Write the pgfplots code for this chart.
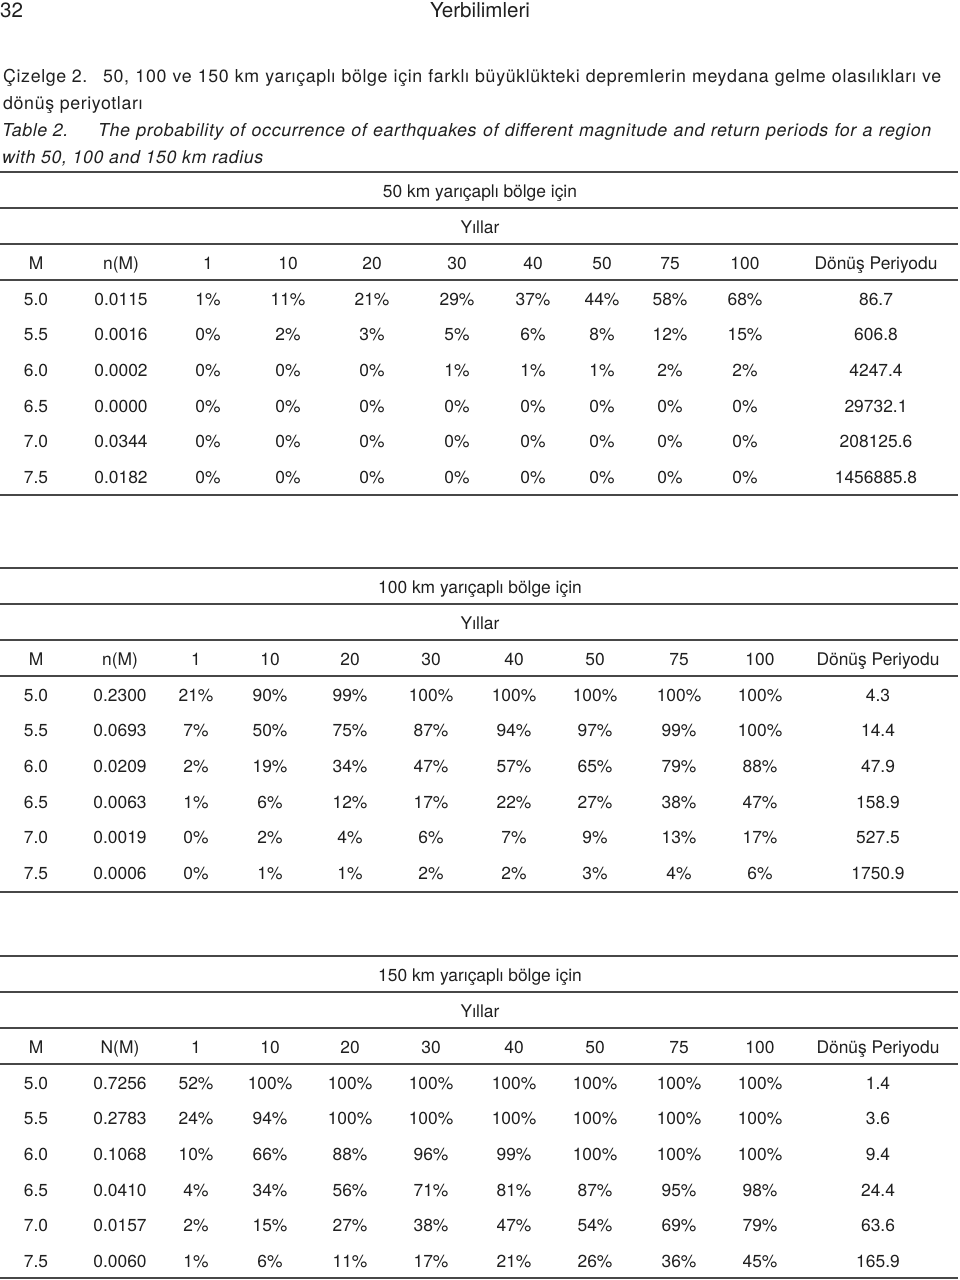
\documentclass[border=0pt]{standalone}
\usepackage{fontspec}
\setmainfont{TeX Gyre Heros}
\newfontfamily\capfam[LetterSpace=3.5]{TeX Gyre Heros}
\usepackage{pgfplots}
\usepackage{pgfplotstable}
\pgfplotsset{compat=1.18}

\newcommand\tabfont{\fontsize{17.4}{20}\selectfont}
\newcommand\capfont{\capfam\fontsize{17.8}{22}\selectfont}
\newcommand\headfont{\fontsize{20.6}{24}\selectfont}
\tikzset{txt/.style={inner sep=0pt, text=black!88}}

% 50 km
\pgfplotstableread{
M   nM     p1 p10 p20 p30 p40 p50 p75 p100 DP
5.0 0.0115 1  11  21  29  37  44  58  68   86.7
5.5 0.0016 0  2   3   5   6   8   12  15   606.8
6.0 0.0002 0  0   0   1   1   1   2   2    4247.4
6.5 0.0000 0  0   0   0   0   0   0   0    29732.1
7.0 0.0344 0  0   0   0   0   0   0   0    208125.6
7.5 0.0182 0  0   0   0   0   0   0   0    1456885.8
}\tabA
% 100 km
\pgfplotstableread{
M   nM     p1 p10 p20 p30 p40 p50 p75 p100 DP
5.0 0.2300 21 90  99  100 100 100 100 100  4.3
5.5 0.0693 7  50  75  87  94  97  99  100  14.4
6.0 0.0209 2  19  34  47  57  65  79  88   47.9
6.5 0.0063 1  6   12  17  22  27  38  47   158.9
7.0 0.0019 0  2   4   6   7   9   13  17   527.5
7.5 0.0006 0  1   1   2   2   3   4   6    1750.9
}\tabB
% 150 km
\pgfplotstableread{
M   nM     p1 p10 p20 p30 p40 p50 p75 p100 DP
5.0 0.7256 52 100 100 100 100 100 100 100  1.4
5.5 0.2783 24 94  100 100 100 100 100 100  3.6
6.0 0.1068 10 66  88  96  99  100 100 100  9.4
6.5 0.0410 4  34  56  71  81  87  95  98   24.4
7.0 0.0157 2  15  27  38  47  54  69  79   63.6
7.5 0.0060 1  6   11  17  21  26  36  45   165.9
}\tabC

% column headers with their x positions
\pgfplotstableread[col sep=comma]{
x,h
36,M
121,n(M)
208,1
288,10
372,20
457,30
533,40
602,50
670,75
745,100
876,Dönüş Periyodu
}\headA
\pgfplotstableread[col sep=comma]{
x,h
36,M
120,n(M)
196,1
270,10
350,20
431,30
514,40
595,50
679,75
760,100
878,Dönüş Periyodu
}\headB
\pgfplotstableread[col sep=comma]{
x,h
36,M
120,N(M)
196,1
270,10
350,20
431,30
514,40
595,50
679,75
760,100
878,Dönüş Periyodu
}\headC

\newcommand\hr[1]{\addplot[rule] coordinates {(0,#1) (958,#1)};}

\begin{document}
\begin{tikzpicture}
\begin{axis}[
  scale only axis, width=960pt, height=1280pt,
  xmin=0, xmax=960, ymin=0, ymax=1280, y dir=reverse,
  hide axis, clip=false,
  cell/.style={only marks, mark=none, point meta=explicit symbolic,
    nodes near coords={\pgfplotspointmeta},
    nodes near coords align={anchor=base},
    every node near coord/.append style={anchor=base, inner sep=0pt, font=\tabfont, text=black!88}},
  pct/.style={cell, nodes near coords={\pgfplotspointmeta\%}},
  rule/.style={no markers, line width=1.6pt, color=black!72},
]
% page header and caption
\node[txt, anchor=base west, font=\headfont] at (axis cs:0,17) {32};
\node[txt, anchor=base, font=\headfont] at (axis cs:480,17) {Yerbilimleri};
\node[txt, anchor=base west, font=\capfont] at (axis cs:3,82) {Çizelge 2.};
\node[txt, anchor=base west, font=\capfont] at (axis cs:103,82) {\makebox[838pt][s]{50, 100 ve 150 km yarıçaplı bölge için farklı büyüklükteki depremlerin meydana gelme olasılıkları ve}};
\node[txt, anchor=base west, font=\capfont] at (axis cs:3,109) {dönüş periyotları};
\node[txt, anchor=base west, font=\capfont\itshape] at (axis cs:2,136) {Table 2.};
\node[txt, anchor=base west, font=\capfont\itshape] at (axis cs:98,136) {\makebox[833pt][s]{The probability of occurrence of earthquakes of different magnitude and return periods for a region}};
\node[txt, anchor=base west, font=\capfont\itshape] at (axis cs:2,163) {with 50, 100 and 150 km radius};

% rules
\hr{172}\hr{208}\hr{244}\hr{280}\hr{495}
\hr{568}\hr{604}\hr{640}\hr{676}\hr{892}
\hr{956}\hr{992}\hr{1028}\hr{1064}\hr{1278}

% ---------- table 1 (50 km)
\node[txt, anchor=base, font=\tabfont] at (axis cs:480,197) {50 km yarıçaplı bölge için};
\node[txt, anchor=base, font=\tabfont] at (axis cs:480,233) {Yıllar};
\addplot[cell] table[x=x, y expr=269, meta=h]{\headA};
\addplot[cell] table[x expr=36,  y expr=305+35.7*\coordindex, meta=M]{\tabA};
\addplot[cell] table[x expr=121, y expr=305+35.7*\coordindex, meta=nM]{\tabA};
\addplot[pct]  table[x expr=208, y expr=305+35.7*\coordindex, meta=p1]{\tabA};
\addplot[pct]  table[x expr=288, y expr=305+35.7*\coordindex, meta=p10]{\tabA};
\addplot[pct]  table[x expr=372, y expr=305+35.7*\coordindex, meta=p20]{\tabA};
\addplot[pct]  table[x expr=457, y expr=305+35.7*\coordindex, meta=p30]{\tabA};
\addplot[pct]  table[x expr=533, y expr=305+35.7*\coordindex, meta=p40]{\tabA};
\addplot[pct]  table[x expr=602, y expr=305+35.7*\coordindex, meta=p50]{\tabA};
\addplot[pct]  table[x expr=670, y expr=305+35.7*\coordindex, meta=p75]{\tabA};
\addplot[pct]  table[x expr=745, y expr=305+35.7*\coordindex, meta=p100]{\tabA};
\addplot[cell] table[x expr=876, y expr=305+35.7*\coordindex, meta=DP]{\tabA};

% ---------- table 2 (100 km)
\node[txt, anchor=base, font=\tabfont] at (axis cs:480,593) {100 km yarıçaplı bölge için};
\node[txt, anchor=base, font=\tabfont] at (axis cs:480,629) {Yıllar};
\addplot[cell] table[x=x, y expr=665, meta=h]{\headB};
\addplot[cell] table[x expr=36,  y expr=701+35.7*\coordindex, meta=M]{\tabB};
\addplot[cell] table[x expr=120, y expr=701+35.7*\coordindex, meta=nM]{\tabB};
\addplot[pct]  table[x expr=196, y expr=701+35.7*\coordindex, meta=p1]{\tabB};
\addplot[pct]  table[x expr=270, y expr=701+35.7*\coordindex, meta=p10]{\tabB};
\addplot[pct]  table[x expr=350, y expr=701+35.7*\coordindex, meta=p20]{\tabB};
\addplot[pct]  table[x expr=431, y expr=701+35.7*\coordindex, meta=p30]{\tabB};
\addplot[pct]  table[x expr=514, y expr=701+35.7*\coordindex, meta=p40]{\tabB};
\addplot[pct]  table[x expr=595, y expr=701+35.7*\coordindex, meta=p50]{\tabB};
\addplot[pct]  table[x expr=679, y expr=701+35.7*\coordindex, meta=p75]{\tabB};
\addplot[pct]  table[x expr=760, y expr=701+35.7*\coordindex, meta=p100]{\tabB};
\addplot[cell] table[x expr=878, y expr=701+35.7*\coordindex, meta=DP]{\tabB};

% ---------- table 3 (150 km)
\node[txt, anchor=base, font=\tabfont] at (axis cs:480,981) {150 km yarıçaplı bölge için};
\node[txt, anchor=base, font=\tabfont] at (axis cs:480,1017) {Yıllar};
\addplot[cell] table[x=x, y expr=1053, meta=h]{\headC};
\addplot[cell] table[x expr=36,  y expr=1089+35.7*\coordindex, meta=M]{\tabC};
\addplot[cell] table[x expr=120, y expr=1089+35.7*\coordindex, meta=nM]{\tabC};
\addplot[pct]  table[x expr=196, y expr=1089+35.7*\coordindex, meta=p1]{\tabC};
\addplot[pct]  table[x expr=270, y expr=1089+35.7*\coordindex, meta=p10]{\tabC};
\addplot[pct]  table[x expr=350, y expr=1089+35.7*\coordindex, meta=p20]{\tabC};
\addplot[pct]  table[x expr=431, y expr=1089+35.7*\coordindex, meta=p30]{\tabC};
\addplot[pct]  table[x expr=514, y expr=1089+35.7*\coordindex, meta=p40]{\tabC};
\addplot[pct]  table[x expr=595, y expr=1089+35.7*\coordindex, meta=p50]{\tabC};
\addplot[pct]  table[x expr=679, y expr=1089+35.7*\coordindex, meta=p75]{\tabC};
\addplot[pct]  table[x expr=760, y expr=1089+35.7*\coordindex, meta=p100]{\tabC};
\addplot[cell] table[x expr=878, y expr=1089+35.7*\coordindex, meta=DP]{\tabC};
\end{axis}
\pgfresetboundingbox
\path (current axis.south west) rectangle (current axis.north east);
\end{tikzpicture}
\end{document}
